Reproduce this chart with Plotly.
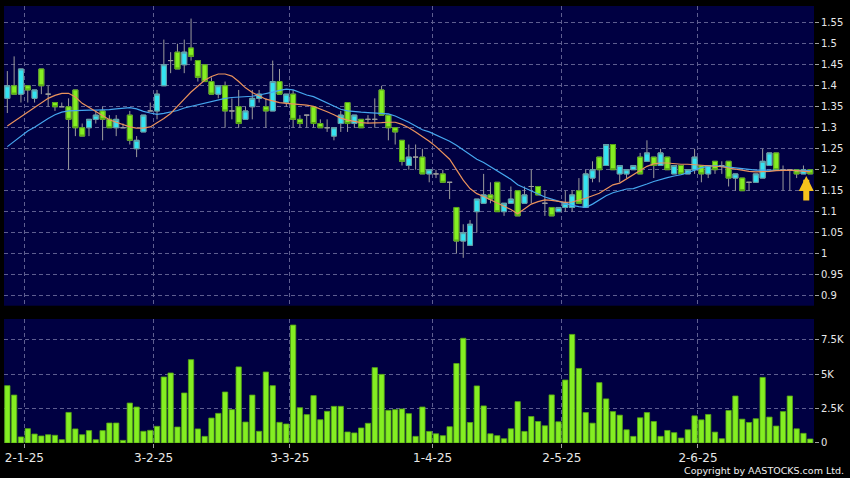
import plotly.graph_objects as go

# ---------------- data ----------------
OPEN = [1.37, 1.40, 1.38, 1.40, 1.37, 1.44, 1.38, 1.36, 1.35, 1.35,
        1.39, 1.30, 1.30, 1.32, 1.34, 1.32, 1.30, 1.30, 1.33, 1.25,
        1.29, 1.34, 1.34, 1.40, 1.46, 1.48, 1.45, 1.49, 1.46, 1.45,
        1.41, 1.38, 1.40, 1.34, 1.35, 1.32, 1.35, 1.37, 1.35, 1.34,
        1.41, 1.36, 1.38, 1.32, 1.33, 1.35, 1.31, 1.30, 1.28, 1.31,
        1.36, 1.31, 1.32, 1.32, 1.32, 1.39, 1.33, 1.30, 1.27, 1.21,
        1.23, 1.23, 1.19, 1.19, 1.19, 1.17, 1.11, 1.03, 1.02, 1.10,
        1.12, 1.14, 1.17, 1.10, 1.12, 1.15, 1.12, 1.16, 1.16, 1.12,
        1.11, 1.10, 1.11, 1.11, 1.15, 1.11, 1.18, 1.23, 1.21, 1.26,
        1.19, 1.19, 1.20, 1.23, 1.22, 1.23, 1.21, 1.23, 1.19, 1.21,
        1.19, 1.20, 1.21, 1.19, 1.22, 1.21, 1.22, 1.18, 1.18, 1.17,
        1.17, 1.18, 1.21, 1.24, 1.20, 1.20, 1.20, 1.19, 1.20]
HIGH = [1.435, 1.47, 1.44, 1.40, 1.39, 1.44, 1.40, 1.36, 1.36, 1.37,
        1.39, 1.31, 1.32, 1.34, 1.35, 1.33, 1.33, 1.31, 1.34, 1.28,
        1.33, 1.36, 1.39, 1.51, 1.48, 1.50, 1.51, 1.56, 1.46, 1.45,
        1.42, 1.40, 1.41, 1.37, 1.39, 1.35, 1.39, 1.39, 1.37, 1.46,
        1.44, 1.38, 1.39, 1.33, 1.33, 1.35, 1.32, 1.32, 1.30, 1.34,
        1.36, 1.33, 1.32, 1.33, 1.37, 1.40, 1.33, 1.30, 1.27, 1.26,
        1.26, 1.25, 1.20, 1.20, 1.20, 1.17, 1.11, 1.07, 1.08, 1.13,
        1.19, 1.17, 1.17, 1.12, 1.16, 1.15, 1.16, 1.20, 1.16, 1.15,
        1.11, 1.11, 1.15, 1.15, 1.18, 1.20, 1.22, 1.23, 1.26, 1.26,
        1.21, 1.20, 1.21, 1.24, 1.27, 1.23, 1.25, 1.23, 1.21, 1.21,
        1.20, 1.25, 1.21, 1.21, 1.22, 1.22, 1.22, 1.19, 1.18, 1.17,
        1.19, 1.25, 1.24, 1.24, 1.21, 1.20, 1.20, 1.21, 1.20]
LOW = [1.335, 1.38, 1.36, 1.36, 1.36, 1.38, 1.35, 1.34, 1.35, 1.20,
       1.28, 1.28, 1.28, 1.31, 1.27, 1.30, 1.28, 1.30, 1.26, 1.23,
       1.29, 1.34, 1.32, 1.40, 1.43, 1.44, 1.43, 1.46, 1.41, 1.41,
       1.38, 1.37, 1.30, 1.32, 1.30, 1.32, 1.32, 1.36, 1.30, 1.34,
       1.38, 1.35, 1.30, 1.30, 1.30, 1.30, 1.30, 1.29, 1.27, 1.29,
       1.29, 1.30, 1.30, 1.31, 1.30, 1.33, 1.27, 1.26, 1.21, 1.20,
       1.20, 1.19, 1.17, 1.18, 1.17, 1.13, 1.00, 0.99, 1.02, 1.05,
       1.12, 1.12, 1.10, 1.09, 1.12, 1.09, 1.12, 1.12, 1.14, 1.09,
       1.09, 1.10, 1.10, 1.10, 1.12, 1.11, 1.17, 1.17, 1.21, 1.20,
       1.17, 1.18, 1.20, 1.19, 1.22, 1.18, 1.21, 1.20, 1.19, 1.19,
       1.19, 1.19, 1.17, 1.18, 1.19, 1.19, 1.16, 1.15, 1.15, 1.15,
       1.17, 1.18, 1.21, 1.20, 1.15, 1.15, 1.18, 1.19, 1.19]
CLOSE = [1.40, 1.38, 1.44, 1.39, 1.39, 1.40, 1.38, 1.35, 1.35, 1.32,
         1.30, 1.28, 1.32, 1.33, 1.32, 1.30, 1.32, 1.30, 1.27, 1.27,
         1.33, 1.34, 1.38, 1.45, 1.46, 1.44, 1.48, 1.47, 1.42, 1.41,
         1.38, 1.40, 1.34, 1.34, 1.31, 1.34, 1.37, 1.38, 1.34, 1.41,
         1.38, 1.38, 1.32, 1.31, 1.33, 1.31, 1.30, 1.30, 1.30, 1.33,
         1.31, 1.33, 1.30, 1.32, 1.32, 1.33, 1.30, 1.29, 1.22, 1.23,
         1.23, 1.19, 1.20, 1.19, 1.17, 1.17, 1.03, 1.05, 1.07, 1.13,
         1.14, 1.13, 1.10, 1.12, 1.13, 1.09, 1.14, 1.16, 1.14, 1.12,
         1.09, 1.11, 1.12, 1.14, 1.12, 1.19, 1.20, 1.20, 1.26, 1.20,
         1.21, 1.20, 1.21, 1.19, 1.24, 1.21, 1.24, 1.20, 1.21, 1.19,
         1.20, 1.23, 1.19, 1.21, 1.20, 1.21, 1.18, 1.19, 1.15, 1.17,
         1.19, 1.22, 1.24, 1.20, 1.20, 1.20, 1.19, 1.20, 1.19]
VOLUME = [4160, 3480, 440, 1040, 650, 510, 600, 560, 240, 2220,
          1020, 600, 900, 240, 900, 1450, 1450, 190, 2900, 2610,
          850, 920, 1210, 4790, 5080, 1160, 3630, 6050, 1020, 480,
          1810, 2150, 3700, 2420, 5520, 1520, 3480, 850, 5150, 4160,
          1500, 1380, 8560, 2560, 2060, 3440, 1690, 2300, 2660, 2660,
          800, 730, 1090, 1430, 5470, 4980, 2370, 2420, 2470, 2130,
          480, 2610, 840, 670, 530, 1180, 5770, 7600, 1490, 4140,
          2690, 670, 530, 310, 1030, 3000, 840, 1920, 1560, 1250,
          3490, 1540, 4570, 7880, 5410, 2210, 1440, 4380, 3200, 2280,
          2020, 960, 480, 1830, 2210, 1560, 480, 910, 750, 360,
          960, 1970, 1680, 2070, 790, 310, 2360, 3410, 1730, 1490,
          1760, 4760, 1880, 1230, 2280, 3410, 1030, 700, 290]
MA_SHORT = [1.304, 1.315, 1.327, 1.338, 1.348, 1.361, 1.370, 1.377, 1.382, 1.382,
            1.373, 1.358, 1.348, 1.339, 1.330, 1.319, 1.313, 1.308, 1.302, 1.299,
            1.299, 1.302, 1.311, 1.322, 1.334, 1.352, 1.368, 1.385, 1.400, 1.413,
            1.422, 1.428, 1.428, 1.423, 1.410, 1.395, 1.384, 1.375, 1.368, 1.364,
            1.360, 1.358, 1.357, 1.356, 1.354, 1.351, 1.345, 1.338, 1.331, 1.323,
            1.318, 1.315, 1.312, 1.311, 1.311, 1.312, 1.313, 1.313, 1.308, 1.300,
            1.290, 1.280, 1.268, 1.255, 1.240, 1.225, 1.200, 1.175, 1.155, 1.143,
            1.136, 1.128, 1.120, 1.113, 1.105, 1.095, 1.106, 1.118, 1.124, 1.128,
            1.127, 1.124, 1.122, 1.123, 1.127, 1.132, 1.138, 1.144, 1.154, 1.164,
            1.168, 1.178, 1.186, 1.196, 1.208, 1.214, 1.216, 1.216, 1.214, 1.213,
            1.213, 1.212, 1.211, 1.210, 1.209, 1.207, 1.204, 1.201, 1.198, 1.196,
            1.195, 1.195, 1.196, 1.198, 1.199, 1.199, 1.198, 1.197, 1.195]
MA_LONG = [1.255, 1.268, 1.281, 1.292, 1.301, 1.312, 1.322, 1.331, 1.337, 1.340,
           1.341, 1.342, 1.342, 1.342, 1.342, 1.343, 1.345, 1.347, 1.348, 1.345,
           1.339, 1.335, 1.332, 1.334, 1.337, 1.341, 1.347, 1.351, 1.355, 1.359,
           1.363, 1.367, 1.370, 1.372, 1.373, 1.374, 1.375, 1.378, 1.381, 1.385,
           1.389, 1.392, 1.390, 1.384, 1.378, 1.374, 1.366, 1.358, 1.350, 1.344,
           1.340, 1.338, 1.337, 1.336, 1.335, 1.334, 1.333, 1.328, 1.321, 1.313,
           1.304, 1.295, 1.290, 1.283, 1.275, 1.268, 1.258, 1.247, 1.235, 1.225,
           1.217, 1.207, 1.197, 1.188, 1.177, 1.164, 1.157, 1.149, 1.142, 1.135,
           1.130, 1.125, 1.120, 1.115, 1.112, 1.110, 1.118, 1.128, 1.138, 1.145,
           1.150, 1.154, 1.155, 1.160, 1.166, 1.172, 1.177, 1.181, 1.185, 1.188,
           1.193, 1.199, 1.205, 1.208, 1.210, 1.208, 1.206, 1.204, 1.202, 1.200,
           1.199, 1.199, 1.199, 1.199, 1.199, 1.199, 1.199, 1.199, 1.198]
DATE_TICK_INDEX = [2, 21, 41, 62, 81, 101]
DATE_TICK_LABELS = ["2-1-25", "3-2-25", "3-3-25", "1-4-25", "2-5-25", "2-6-25"]
PRICE_TICKS = [0.9, 0.95, 1.0, 1.05, 1.1, 1.15, 1.2, 1.25, 1.3, 1.35, 1.4, 1.45, 1.5, 1.55]
PRICE_TICK_LABELS = ["0.9", "0.95", "1", "1.05", "1.1", "1.15", "1.2", "1.25",
                     "1.3", "1.35", "1.4", "1.45", "1.5", "1.55"]
VOL_TICKS = [0, 2500, 5000, 7500]
VOL_TICK_LABELS = ["0", "2.5K", "5K", "7.5K"]

# ---------------- styling ----------------
NAVY = "#000042"
GRID = "#5e5e90"
GRID_DASH = "4px,3px"
GREEN = "#84ee22"
GREEN_EDGE = "#56a614"
CYAN = "#33e4f2"
CYAN_EDGE = "#5f9ea6"
WICK = "#9c9c9c"
ORANGE = "#ea925c"
BLUE = "#45a6ee"
TEXT = "#e8e8e8"
FONT = "DejaVu Sans"

n = len(CLOSE)
xs = list(range(n))
grid_x = [i + 0.5 for i in DATE_TICK_INDEX]

# body-only values (dojis are left to the gray wick trace)
b_open = [o if o != c else None for o, c in zip(OPEN, CLOSE)]
b_close = [c if o != c else None for o, c in zip(OPEN, CLOSE)]
b_high = [max(o, c) if o != c else None for o, c in zip(OPEN, CLOSE)]
b_low = [min(o, c) if o != c else None for o, c in zip(OPEN, CLOSE)]

fig = go.Figure()

# wicks (gray)
fig.add_trace(go.Candlestick(
    x=xs, open=OPEN, high=HIGH, low=LOW, close=CLOSE,
    increasing=dict(line=dict(color=WICK, width=1), fillcolor=WICK),
    decreasing=dict(line=dict(color=WICK, width=1), fillcolor=WICK),
    whiskerwidth=0, hoverinfo="skip", xaxis="x", yaxis="y"))

# bodies (coloured)
fig.add_trace(go.Candlestick(
    x=xs, open=b_open, high=b_high, low=b_low, close=b_close,
    increasing=dict(line=dict(color=CYAN_EDGE, width=1), fillcolor=CYAN),
    decreasing=dict(line=dict(color=GREEN_EDGE, width=1), fillcolor=GREEN),
    whiskerwidth=0, hoverinfo="skip", xaxis="x", yaxis="y"))

fig.add_trace(go.Scatter(x=xs, y=MA_LONG, mode="lines",
                         line=dict(color=BLUE, width=1.2), hoverinfo="skip",
                         xaxis="x", yaxis="y"))
fig.add_trace(go.Scatter(x=xs, y=MA_SHORT, mode="lines",
                         line=dict(color=ORANGE, width=1.2), hoverinfo="skip",
                         xaxis="x", yaxis="y"))

# volume
fig.add_trace(go.Bar(x=xs, y=VOLUME, marker=dict(color=GREEN,
                     line=dict(color=GREEN_EDGE, width=0.8)),
                     hoverinfo="skip", xaxis="x2", yaxis="y2"))

xrange = [-0.49, n - 1 + 0.55]

fig.update_layout(
    width=850, height=478,
    paper_bgcolor="black", plot_bgcolor=NAVY,
    margin=dict(l=4, r=36, t=6, b=35),
    showlegend=False,
    boxgap=0.27, boxgroupgap=0,
    bargap=0.22,
    font=dict(family=FONT, color=TEXT),
    xaxis=dict(domain=[0, 1], anchor="y", range=xrange,
               tickvals=grid_x, showticklabels=False, ticks="",
               showgrid=True, gridcolor=GRID, griddash=GRID_DASH, gridwidth=1,
               zeroline=False, showline=False,
               rangeslider=dict(visible=False)),
    yaxis=dict(domain=[0.3142, 1], anchor="x", side="right",
               range=[0.876, 1.59], tickvals=PRICE_TICKS, ticktext=PRICE_TICK_LABELS,
               showgrid=True, gridcolor=GRID, griddash=GRID_DASH, gridwidth=1,
               ticks="outside", ticklen=4, tickcolor="#a0a0a0",
               tickfont=dict(family=FONT, size=10, color=TEXT),
               zeroline=False, showline=False),
    xaxis2=dict(domain=[0, 1], anchor="y2", range=xrange,
                tickvals=grid_x, ticktext=DATE_TICK_LABELS,
                showgrid=True, gridcolor=GRID, griddash=GRID_DASH, gridwidth=1,
                ticks="outside", ticklen=4, tickcolor="#a0a0a0",
                tickfont=dict(family=FONT, size=12, color=TEXT),
                zeroline=False, showline=False),
    yaxis2=dict(domain=[0, 0.2838], anchor="x2", side="right",
                range=[0, 9000], tickvals=VOL_TICKS, ticktext=VOL_TICK_LABELS,
                showgrid=True, gridcolor=GRID, griddash=GRID_DASH, gridwidth=1,
                ticks="outside", ticklen=4, tickcolor="#a0a0a0",
                tickfont=dict(family=FONT, size=10, color=TEXT),
                zeroline=False, showline=False),
)

# latest-price arrow
fig.add_annotation(x=n - 1, y=CLOSE[-1], xref="x", yref="y", text="",
                   showarrow=True, arrowhead=2, arrowsize=0.5, arrowwidth=6,
                   arrowcolor="#f6c21c", ax=0, ay=26, xshift=-4, yshift=-2)

fig.add_annotation(x=1, y=0, xref="paper", yref="paper",
                   text="Copyright by AASTOCKS.com Ltd.", showarrow=False,
                   xanchor="right", yanchor="middle", xshift=32, yshift=-27,
                   font=dict(family=FONT, size=9.5, color="#f0f0f0"))

fig.write_html("out.html",
               config={"displayModeBar": False, "staticPlot": True},
               post_script="document.body.style.margin='0';"
                           "document.body.style.background='black';")
